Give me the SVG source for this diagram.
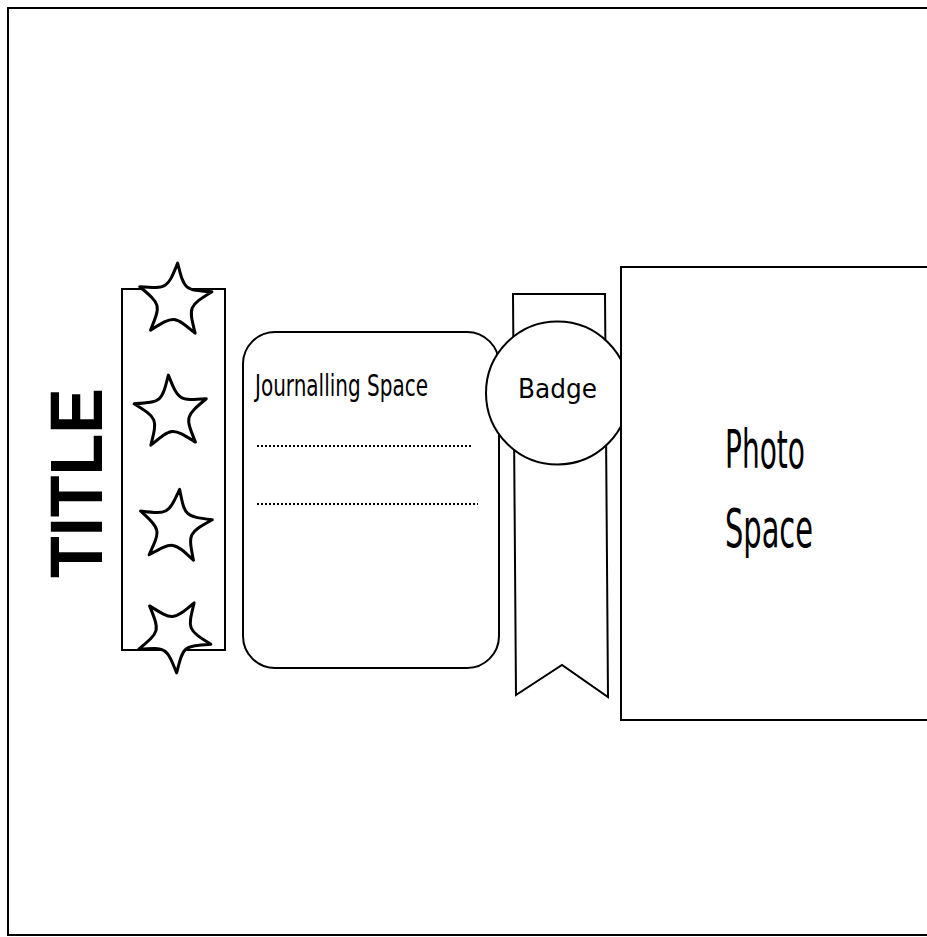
<svg xmlns="http://www.w3.org/2000/svg" width="927" height="937" viewBox="0 0 927 937">
<style>
.ln{fill:none;stroke:#000;stroke-width:2}
.sh{fill:#fff;stroke:#000;stroke-width:2}
.star{fill:#fff;stroke:#000;stroke-width:3;stroke-linejoin:round}
.hand{font-family:"DejaVu Sans Condensed","DejaVu Sans",sans-serif;font-weight:200;fill:#000}
.dots{fill:none;stroke:#000;stroke-width:2.2;stroke-dasharray:2 2}
</style>
<defs>
<path id="starShape" d="M0,-38 C8.52,-11.73 8.52,-11.73 36.14,-11.74 C13.79,4.48 13.79,4.48 22.34,30.74 C0,14.5 0,14.5 -22.34,30.74 C-13.79,4.48 -13.79,4.48 -36.14,-11.74 C-8.52,-11.73 -8.52,-11.73 0,-38 Z"/>
</defs>
<rect width="927" height="937" fill="#fff"/>
<g id="frame"><path class="ln" d="M940,8 H8 V935 H940" stroke-width="2.5"/></g>
<g id="title"><text transform="translate(102,483) rotate(-90)" text-anchor="middle" font-family="Liberation Sans, Arial, sans-serif" font-weight="bold" font-size="74" textLength="190" lengthAdjust="spacingAndGlyphs">TITLE</text></g>
<g id="star-strip">
<rect class="sh" x="122" y="289" width="103" height="361"/>
<use href="#starShape" class="star" transform="translate(175,301) rotate(4)"/>
<use href="#starShape" class="star" transform="translate(171,413) rotate(-4)"/>
<use href="#starShape" class="star" transform="translate(175,527) rotate(7)"/>
<use href="#starShape" class="star" transform="translate(174,635) rotate(176)"/>
</g>
<g id="journal">
<rect class="sh" x="243" y="332" width="256" height="336" rx="32" ry="32"/>
<text class="hand" x="255" y="396" font-size="30" textLength="173" lengthAdjust="spacingAndGlyphs">Journalling Space</text>
<line class="dots" x1="257" y1="446" x2="473" y2="446"/>
<line class="dots" x1="257" y1="504" x2="478" y2="504"/>
</g>
<g id="ribbon"><path class="sh" d="M513,294 L605,294 L608,697 L562,665 L516,695 Z"/></g>
<g id="badge">
<circle class="sh" cx="557.5" cy="393" r="71.5"/>
<text class="hand" x="518" y="398" font-size="26" textLength="79" lengthAdjust="spacingAndGlyphs">Badge</text>
</g>
<g id="photo">
<path class="sh" d="M940,267 H621 V720 H940"/>
<text class="hand" x="725" y="468" font-size="54" textLength="80" lengthAdjust="spacingAndGlyphs">Photo</text>
<text class="hand" x="725" y="547" font-size="54" textLength="88" lengthAdjust="spacingAndGlyphs">Space</text>
</g>
<g id="connectors"/>
</svg>
